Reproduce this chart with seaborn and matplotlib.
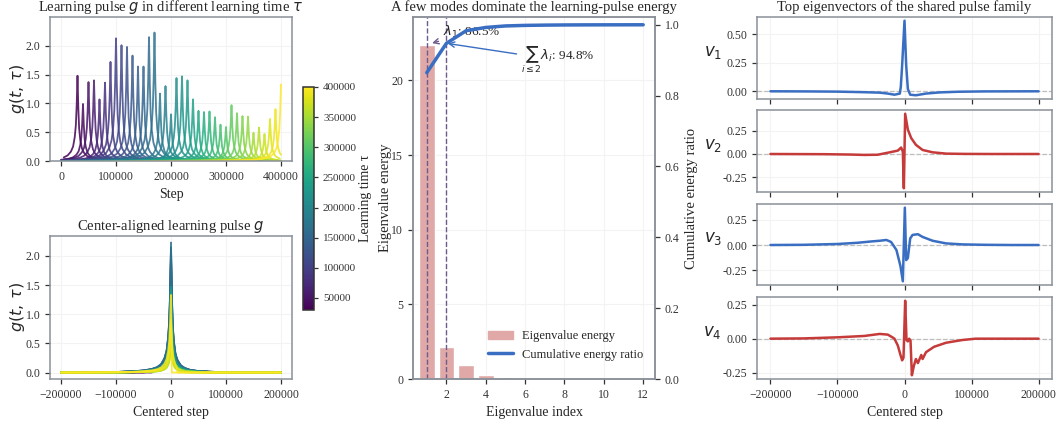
import numpy as np
import pandas as pd
import matplotlib
matplotlib.use("Agg")
import matplotlib.pyplot as plt
import seaborn as sns
from matplotlib.lines import Line2D
from matplotlib.patches import Patch
from matplotlib.colors import Normalize
from matplotlib.cm import ScalarMappable

# ---------------- data ----------------
tau_values = [30000, 40000, 50000, 60000, 70000, 80000, 90000, 100000, 110000, 120000,
              130000, 140000, 150000, 160000, 170000, 180000, 190000, 200000, 210000, 220000,
              230000, 240000, 250000, 260000, 270000, 280000, 290000, 300000, 310000, 320000,
              330000, 340000, 350000, 360000, 370000, 380000, 390000, 400000]
peak_heights = [1.48, 0.99, 1.37, 1.40, 1.07, 1.36, 1.72, 2.13, 2.01, 1.98,
                1.83, 1.64, 1.64, 2.15, 2.23, 1.17, 1.30, 0.81, 1.44, 1.47,
                1.40, 1.07, 0.87, 0.85, 0.86, 0.76, 0.63, 0.59, 0.97, 0.83,
                0.78, 0.77, 0.49, 0.58, 0.47, 0.73, 0.90, 1.33]
# shared pulse profile (offset in steps, value relative to peak)
profile_offset = [-200000, -150000, -100000, -70000, -50000, -35000, -25000, -18000, -12000,
                  -8000, -5000, -3000, -1500, 0, 1500, 3000, 5000, 8000, 10000, 12000, 18000,
                  25000, 35000, 50000, 70000, 100000, 150000, 200000]
profile_rel = [0.0, 0.001, 0.004, 0.009, 0.016, 0.027, 0.042, 0.065, 0.11,
               0.17, 0.28, 0.42, 0.65, 1.0, 0.62, 0.38, 0.25, 0.15, 0.12, 0.095, 0.055,
               0.035, 0.02, 0.011, 0.006, 0.002, 0.0005, 0.0]
step_min, step_max = 0, 400000

eig_index = [1, 2, 3, 4, 5, 6, 7, 8, 9, 10, 11, 12]
eig_energy = [22.40, 2.15, 0.92, 0.24, 0.11, 0.04, 0.02, 0.012, 0.006, 0.003, 0.002, 0.001]

# eigenvectors (centered step in thousands, value)
v1_x = [-200, -150, -100, -60, -37, -25, -15, -7, -5.5, -3.5, 0, 2.5, 5, 8.5, 17, 32, 52, 80, 120, 200]
v1_y = [0.0, -0.001, -0.003, -0.008, -0.012, -0.02, -0.03, -0.02, 0.04, 0.23, 0.62, 0.23, 0.02, -0.03,
        -0.035, -0.02, -0.01, -0.004, -0.001, 0.0]
v2_x = [-200, -120, -80, -60, -40, -22, -10, -5, -2.5, -1, 1, 5, 10, 17, 27, 42, 62, 90, 130, 200]
v2_y = [0.0, -0.002, -0.006, -0.01, -0.008, 0.018, 0.036, 0.069, 0.025, -0.366, 0.43, 0.26, 0.17,
        0.098, 0.043, 0.018, 0.004, 0.001, 0.0, 0.0]
v3_x = [-200, -150, -100, -70, -50, -37, -27, -20, -12, -6, -2.5, 0.5, 2.5, 5, 8.5, 12, 20, 27,
        42, 62, 86, 120, 160, 200]
v3_y = [0.0, 0.002, 0.01, 0.022, 0.035, 0.042, 0.05, 0.03, -0.05, -0.21, -0.36, 0.37, -0.15, -0.13,
        0.065, 0.1, 0.107, 0.08, 0.042, 0.016, 0.006, 0.002, 0.0, 0.0]
v4_x = [-200, -150, -100, -60, -37, -25, -18, -15, -10, -6, -3.5, -1.5, 1, 3, 5, 7, 9, 11, 14, 17,
        20, 25, 27, 32, 44, 62, 86, 106, 150, 200]
v4_y = [0.0, 0.002, 0.01, 0.02, 0.035, 0.03, 0.01, 0.0, -0.05, -0.12, -0.16, -0.14, 0.28, -0.01,
        -0.02, 0.0, -0.015, -0.27, -0.2, -0.15, -0.18, -0.12, -0.15, -0.1, -0.06, -0.03, -0.01, 0.0,
        0.0, 0.0]

# ---------------- style ----------------
sns.set_theme(style="whitegrid", rc={
    "axes.edgecolor": "#8a9099",
    "axes.linewidth": 1.1,
    "grid.color": "#f3f3f3",
    "grid.linewidth": 0.8,
    "xtick.bottom": True, "ytick.left": True,
    "xtick.major.size": 3.5, "ytick.major.size": 3.5,
    "xtick.major.width": 0.9, "ytick.major.width": 0.9,
    "xtick.color": "#333333", "ytick.color": "#333333",
    "xtick.labelsize": 8.5, "ytick.labelsize": 8.5,
    "axes.labelsize": 10, "axes.titlesize": 10.5,
})
plt.rcParams["font.family"] = ["Liberation Serif", "DejaVu Serif"]
plt.rcParams["mathtext.fontset"] = "dejavusans"
plt.rcParams["axes.unicode_minus"] = True

W, H = 1060, 421
fig = plt.figure(figsize=(W / 100, H / 100), dpi=100)

def box(l, t, r, b):
    return [l / W, (H - b) / H, (r - l) / W, (b - t) / H]

# ---------------- pulse tables ----------------
rows = []
for tau, pk in zip(tau_values, peak_heights):
    for d, rel in zip(profile_offset, profile_rel):
        t = tau + d
        inside = step_min <= t <= step_max
        rows.append({"tau": tau, "t": t, "d": d, "g": pk * rel if inside else 0.0, "inside": inside})
pulses = pd.DataFrame(rows)

norm = Normalize(vmin=min(tau_values), vmax=max(tau_values))

ax_top = fig.add_axes(box(50, 17, 292, 161))
sns.lineplot(data=pulses[pulses["inside"]], x="t", y="g", hue="tau", units="tau", estimator=None,
             palette="viridis", hue_norm=norm, legend=False, lw=1.3, alpha=0.85, ax=ax_top)
ax_top.set_ylim(0, 2.5)
ax_top.set_xticks([0, 100000, 200000, 300000, 400000])
ax_top.set_yticks([0.0, 0.5, 1.0, 1.5, 2.0])
ax_top.set_xlabel("Step")
ax_top.set_ylabel(r"$g(t,\,\tau)$", fontsize=11.5)
ax_top.yaxis.set_label_coords(-0.095, 0.5)
ax_top.set_title(r"Learning pulse $g$ in different learning time $\tau$", pad=4)

ax_ctr = fig.add_axes(box(50, 236, 292, 379))
sns.lineplot(data=pulses, x="d", y="g", hue="tau", units="tau", estimator=None,
             palette="viridis", hue_norm=norm, legend=False, lw=1.3, alpha=0.85, ax=ax_ctr)
ax_ctr.set_xticks([-200000, -100000, 0, 100000, 200000])
ax_ctr.set_yticks([0.0, 0.5, 1.0, 1.5, 2.0])
ax_ctr.set_xlabel("Centered step")
ax_ctr.set_ylabel(r"$g(t,\,\tau)$", fontsize=11.5)
ax_ctr.yaxis.set_label_coords(-0.095, 0.5)
ax_ctr.set_title(r"Center-aligned learning pulse $g$", pad=4)

cax = fig.add_axes(box(303, 87, 314, 310))
cb = fig.colorbar(ScalarMappable(norm=norm, cmap="viridis"), cax=cax)
cb.set_ticks([50000, 100000, 150000, 200000, 250000, 300000, 350000, 400000])
cb.ax.tick_params(labelsize=8, length=3)
cb.outline.set_edgecolor("#333333")
cb.set_label("Learning time τ", fontsize=10, labelpad=2)

# ---------------- eigenvalue panel ----------------
total = sum(eig_energy)
cum_ratio = list(np.cumsum(eig_energy) / total)
bar_color = "#e0a9a8"
line_blue = "#3a6ec2"
dash_col = "#6c5b8c"

ax_m = fig.add_axes(box(413, 17, 655, 379))
sns.barplot(x=eig_index, y=eig_energy, native_scale=True, color=bar_color, saturation=1,
            width=0.8, ax=ax_m)
ax_m.set_xlim(0.3, 12.6)
ax_m.set_ylim(0, 24.25)
ax_m.set_yticks([0, 5, 10, 15, 20])
ax_m.set_xticks([2, 4, 6, 8, 10, 12])
ax_m.set_xlabel("Eigenvalue index")
ax_m.set_ylabel("Eigenvalue energy", fontsize=10.5)
ax_m.yaxis.set_label_coords(-0.085, 0.5)
ax_m.set_title("A few modes dominate the learning-pulse energy", pad=4)
ax_m.axvline(eig_index[0], color=dash_col, ls="--", lw=1)
ax_m.axvline(eig_index[1], color=dash_col, ls="--", lw=1)
ax_m.annotate(rf"$\lambda_1$: {cum_ratio[0]*100:.1f}%", xy=(eig_index[0], eig_energy[0]),
              xytext=(1.83, 23.25), ha="left", va="center", fontsize=9.5,
              arrowprops=dict(arrowstyle="->", color=dash_col, lw=1, shrinkA=1, shrinkB=4))

ax_r = ax_m.twinx()
sns.lineplot(x=eig_index, y=cum_ratio, color=line_blue, lw=2.5, ax=ax_r)
ax_r.set_ylim(0, 1.022)
ax_r.set_yticks([0.0, 0.2, 0.4, 0.6, 0.8, 1.0])
ax_r.grid(False)
ax_r.tick_params(axis="y", right=True, length=3.5)
ax_r.set_ylabel("Cumulative energy ratio", fontsize=10.5)
ax_r.annotate(rf"$\sum_{{i\leq 2}}\lambda_i$: {cum_ratio[1]*100:.1f}%", xy=(eig_index[1], cum_ratio[1]),
              xytext=(5.8, 0.9), ha="left", va="center", fontsize=9.5,
              arrowprops=dict(arrowstyle="->", color=line_blue, lw=1, shrinkA=1, shrinkB=1))
handles = [Patch(color=bar_color, label="Eigenvalue energy"),
           Line2D([], [], color=line_blue, lw=2.5, label="Cumulative energy ratio")]
ax_r.legend(handles=handles, loc="lower right", frameon=False, fontsize=9,
            bbox_to_anchor=(1.0, 0.02))

# ---------------- eigenvectors ----------------
red = "#c63a3a"
vecs = [(v1_x, v1_y, line_blue, r"$v_1$", [0.0, 0.25, 0.5]),
        (v2_x, v2_y, red, r"$v_2$", [-0.25, 0.0, 0.25]),
        (v3_x, v3_y, line_blue, r"$v_3$", [-0.25, 0.0, 0.25]),
        (v4_x, v4_y, red, r"$v_4$", [-0.25, 0.0, 0.25])]
spans = [(17, 99), (110, 192), (204, 285), (297, 379)]
first = None
for i, ((vx, vy, col, lab, yt), (t, b)) in enumerate(zip(vecs, spans)):
    ax = fig.add_axes(box(757, t, 1052, b), sharex=first)
    if first is None:
        first = ax
    ax.axhline(0, color="#bdbdbd", ls="--", lw=0.9, zorder=1)
    sns.lineplot(x=np.array(vx) * 1000, y=vy, color=col, lw=1.8, ax=ax, zorder=3)
    ax.set_yticks(yt)
    ax.yaxis.set_major_formatter(matplotlib.ticker.FormatStrFormatter("%.2f"))
    ax.set_ylabel(lab, rotation=0, fontsize=12, va="center", ha="center")
    ax.yaxis.set_label_coords(-0.15, 0.57)
    ax.set_xticks([-200000, -100000, 0, 100000, 200000])
    if i == 0:
        ax.set_title("Top eigenvectors of the shared pulse family", pad=4)
    if i < 3:
        ax.tick_params(labelbottom=False)
    else:
        ax.set_xlabel("Centered step")

fig.savefig("out.png", dpi=100)
